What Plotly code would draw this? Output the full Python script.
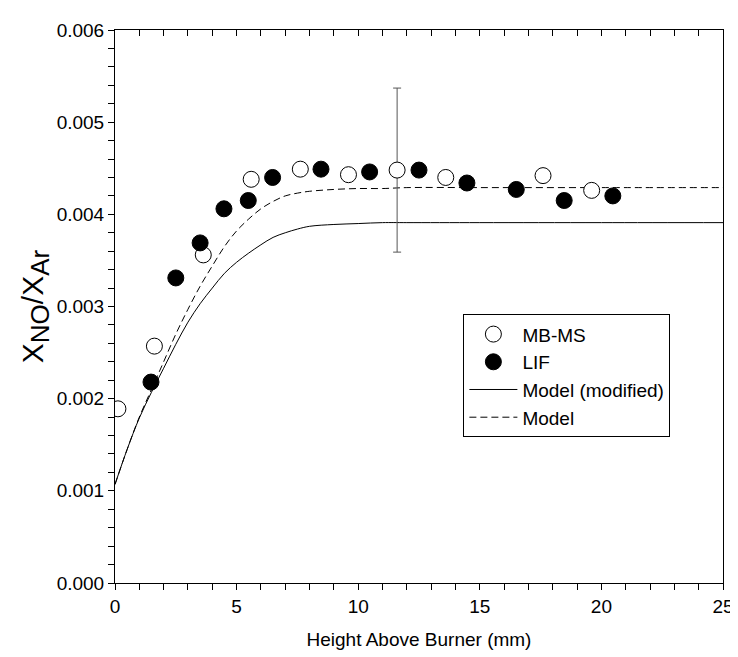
import plotly.graph_objects as go

# MB-MS (open circles)
mbms_x = [0.12, 1.62, 3.63, 5.6, 7.62, 9.6, 11.6, 13.6, 17.6, 19.6]
mbms_y = [0.00189, 0.00257, 0.00356, 0.00438, 0.00449, 0.00443, 0.00448, 0.00440, 0.00442, 0.00426]
mbms_err = [None, None, None, None, None, None, 0.00089, None, None, None]

# LIF (filled circles)
lif_x = [1.48, 2.5, 3.5, 4.48, 5.48, 6.48, 8.47, 10.47, 12.5, 14.47, 16.5, 18.47, 20.47]
lif_y = [0.00218, 0.00331, 0.00369, 0.00406, 0.00415, 0.00440, 0.00449, 0.00446, 0.00448,
         0.00434, 0.00427, 0.00415, 0.00420]

# Model (modified) - solid
mod_x = [0, 0.5, 1.0, 1.5, 2.0, 2.5, 3.0, 3.5, 4.0, 4.5, 5.0, 5.5, 6.0, 6.5, 7.0, 7.5,
         8.0, 9.0, 10.0, 11.0, 12.0, 15.0, 20.0, 25.0]
mod_y = [0.00107, 0.00145, 0.00179, 0.00207, 0.00233, 0.00259, 0.00283, 0.00303, 0.00320,
         0.00336, 0.00348, 0.00358, 0.00367, 0.00375, 0.00380, 0.00384, 0.00387, 0.00389,
         0.00390, 0.00391, 0.00391, 0.00391, 0.00391, 0.00391]

# Model - dashed
model_x = [0, 0.5, 1.0, 1.5, 2.0, 2.5, 3.0, 3.5, 4.0, 4.5, 5.0, 5.5, 6.0, 6.5, 7.0, 7.5,
           8.0, 9.0, 10.0, 11.0, 12.0, 15.0, 20.0, 25.0]
model_y = [0.00107, 0.00145, 0.00180, 0.00210, 0.00240, 0.00270, 0.00297, 0.00322, 0.00344,
           0.00365, 0.00382, 0.00395, 0.00406, 0.00414, 0.00420, 0.00423, 0.00425, 0.00427,
           0.00428, 0.00428, 0.00429, 0.00429, 0.00429, 0.00429]

FONT = "Liberation Sans, Arial, sans-serif"
YTITLE = ("X<sub><span style='font-size:26px'>NO</span></sub>/"
          "X<sub><span style='font-size:26px'>Ar</span></sub>")

fig = go.Figure()
fig.add_trace(go.Scatter(x=mod_x, y=mod_y, mode="lines", name="Model (modified)",
                         line=dict(color="black", width=1, shape="spline"), legendrank=3))
fig.add_trace(go.Scatter(x=model_x, y=model_y, mode="lines", name="Model",
                         line=dict(color="black", width=1, dash="7px,4px", shape="spline"),
                         legendrank=4))
fig.add_trace(go.Scatter(x=mbms_x, y=mbms_y, mode="markers", name="MB-MS",
                         marker=dict(symbol="circle", size=16, color="white",
                                     line=dict(color="black", width=1)),
                         error_y=dict(type="data", array=mbms_err, visible=True,
                                      color="#555555", thickness=1, width=4),
                         legendrank=1))
fig.add_trace(go.Scatter(x=lif_x, y=lif_y, mode="markers", name="LIF",
                         marker=dict(symbol="circle", size=16, color="black",
                                     line=dict(color="black", width=1)),
                         legendrank=2))
# invisible trace to host the top axis with inward ticks
fig.add_trace(go.Scatter(x=[0, 25], y=[0, 0], xaxis="x2", mode="markers",
                         marker=dict(opacity=0), showlegend=False, hoverinfo="skip"))

fig.update_layout(
    width=738, height=657,
    margin=dict(l=107, r=13, t=18, b=82),
    paper_bgcolor="white", plot_bgcolor="white",
    font=dict(family=FONT, size=19, color="black"),
    showlegend=True,
    legend=dict(x=0.573, y=0.486, xanchor="left", yanchor="top",
                bordercolor="black", borderwidth=1, bgcolor="white",
                font=dict(family=FONT, size=19, color="black"),
                tracegroupgap=0, itemwidth=48),
    xaxis=dict(range=[0, 25], showgrid=False, zeroline=False,
               showline=True, linecolor="black", linewidth=1, mirror=True,
               ticks="outside", ticklen=6, tickcolor="black", tickwidth=1,
               tickvals=[0, 5, 10, 15, 20, 25],
               minor=dict(dtick=1, ticks="outside", ticklen=6, tickcolor="black"),
               title=dict(text="Height Above Burner (mm)", font=dict(size=19), standoff=16),
               tickfont=dict(size=19)),
    xaxis2=dict(range=[0, 25], overlaying="x", side="top", anchor="y",
                showgrid=False, zeroline=False, showline=False,
                ticks="inside", ticklen=6, tickcolor="black", tickwidth=1,
                tickvals=[0, 5, 10, 15, 20, 25], showticklabels=False,
                minor=dict(dtick=1, ticks="inside", ticklen=6, tickcolor="black")),
    yaxis=dict(range=[0, 0.006], showgrid=False, zeroline=False,
               showline=True, linecolor="black", linewidth=1, mirror=True,
               ticks="outside", ticklen=6, tickcolor="black", tickwidth=1,
               dtick=0.001, tickformat=".3f",
               minor=dict(dtick=0.0002, ticks="outside", ticklen=6, tickcolor="black"),
               title=dict(text=YTITLE, font=dict(size=30), standoff=4),
               tickfont=dict(size=19)),
)

fig.write_html("out.html")
